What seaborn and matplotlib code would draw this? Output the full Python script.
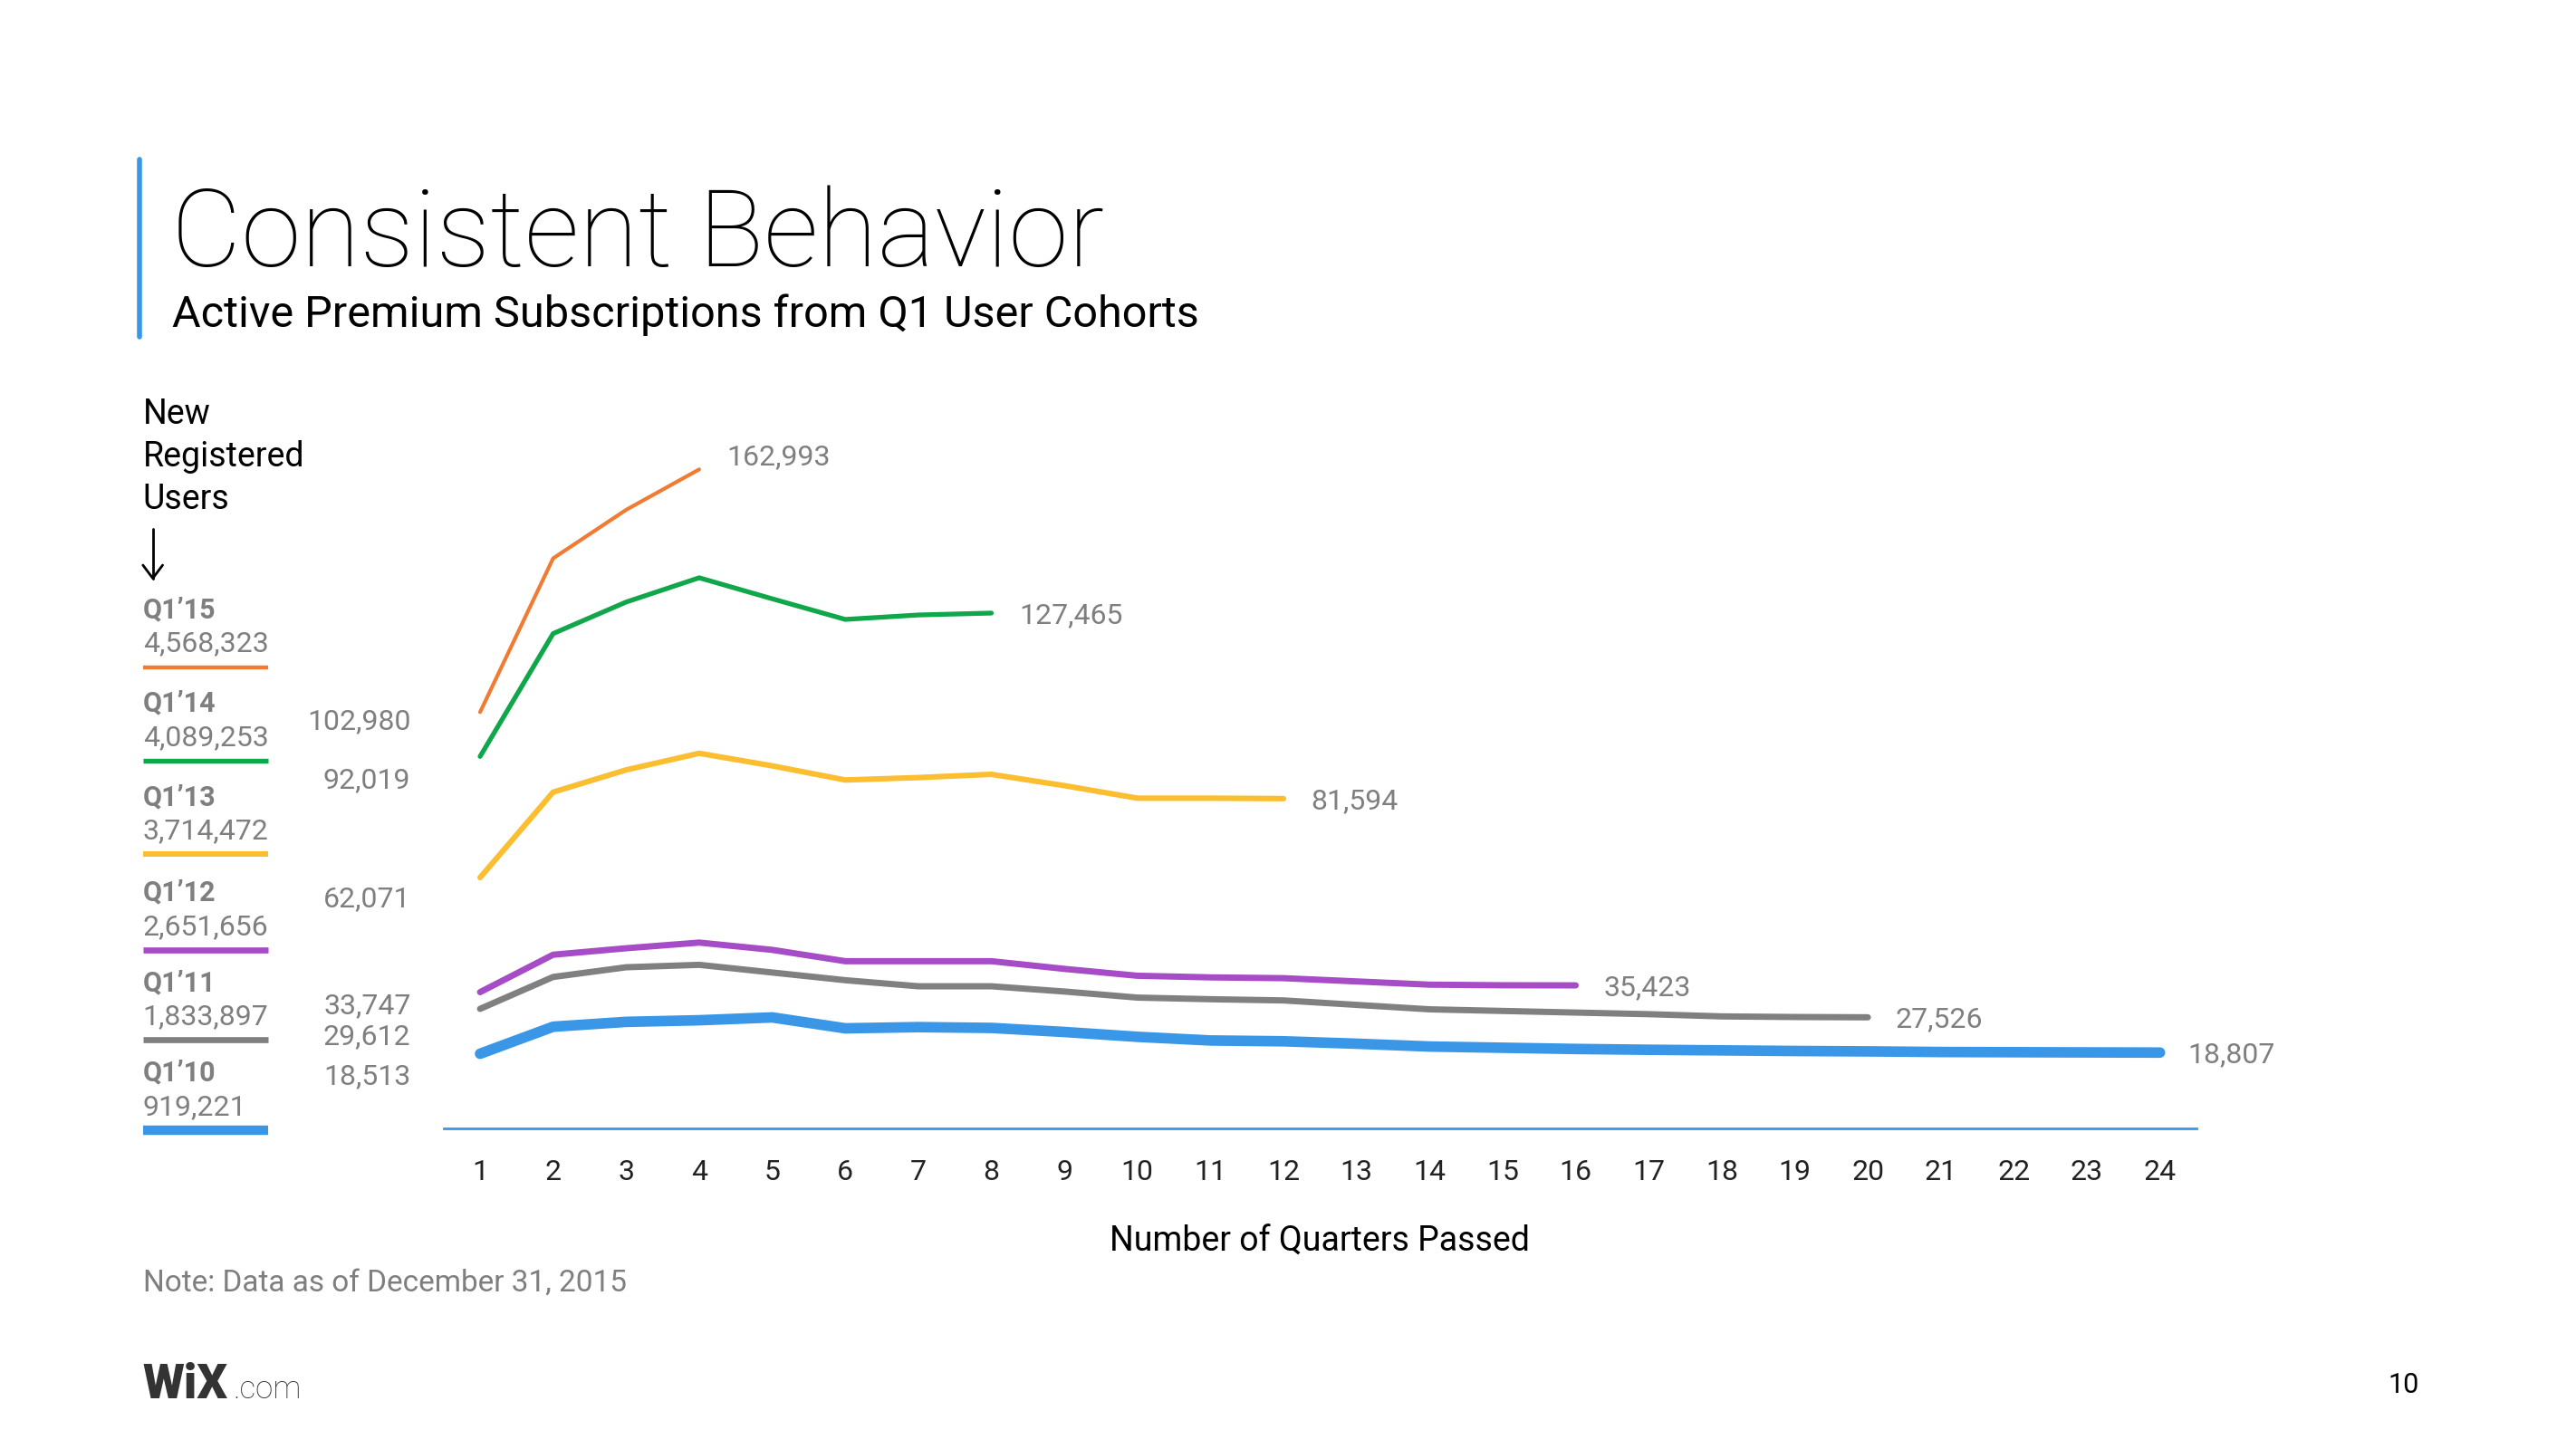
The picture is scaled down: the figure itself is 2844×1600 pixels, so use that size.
'''
Wix cohort chart: active premium subscriptions from Q1 user cohorts
'''
import numpy as np
import pandas as pd
import seaborn as sns
from matplotlib import pyplot as plt
from matplotlib.lines import Line2D

# - data ----------------------------------------------------------------------
cohorts = ['Q1\u201915', 'Q1\u201914', 'Q1\u201913', 'Q1\u201912', 'Q1\u201911', 'Q1\u201910']
new_users = [4568323, 4089253, 3714472, 2651656, 1833897, 919221]

q1_15 = [102980, 141000, 153000, 162993]
q1_14 = [92019, 122400, 130200, 136200, 131000, 125900, 127000, 127465]
q1_13 = [62071, 83200, 88700, 92800, 89700, 86200, 86800, 87600, 84800, 81700,
         81700, 81594]
q1_12 = [33747, 43000, 44600, 46000, 44200, 41400, 41400, 41400, 39500, 37800,
         37400, 37200, 36400, 35600, 35450, 35423]
q1_11 = [29612, 37500, 39900, 40500, 38600, 36700, 35200, 35200, 33900, 32400,
         32000, 31700, 30600, 29500, 29100, 28700, 28300, 27750, 27600, 27526]
q1_10 = [18513, 25200, 26400, 26800, 27500, 24800, 25100, 24900, 23900, 22700,
         21800, 21600, 21000, 20300, 20000, 19700, 19500, 19350, 19200, 19100,
         18950, 18900, 18850, 18807]
series = [q1_15, q1_14, q1_13, q1_12, q1_11, q1_10]

quarter_ticks = list(range(1, 25))

colors = ['#F07C33', '#10A74B', '#FBBE30', '#A54CC6', '#808080', '#3A97E8']
widths = [1.5, 1.9, 2.2, 2.5, 2.5, 4.2]

# - frame ---------------------------------------------------------------------
rows = []
for name, vals in zip(cohorts, series):
    for q, v in enumerate(vals, start=1):
        rows.append({'quarter': q, 'subs': v, 'cohort': name})
df = pd.DataFrame(rows)

# - plot ----------------------------------------------------------------------
sns.set_theme(style='white')
plt.rcParams['font.family'] = ['Roboto', 'DejaVu Sans']

W, H = 1568.0, 882.0          # layout measured on the shrunk reference
fx = lambda x: x / W
fy = lambda y: 1 - y / H

fig = plt.figure(figsize=(14.22, 8), dpi=200)
ax = fig.add_axes([fx(270), fy(687), fx(1337) - fx(270), fy(250) - fy(687)])

palette = dict(zip(cohorts, colors))
sizes = dict(zip(cohorts, widths))
sns.lineplot(data=df, x='quarter', y='subs', hue='cohort', size='cohort',
             palette=palette, sizes=sizes, hue_order=cohorts[::-1],
             legend=False, ax=ax, solid_capstyle='round')

ax.set_xlim(0.5, 24.5)
ax.set_ylim(0, 177500)
ax.set_xticks(quarter_ticks)
ax.set_xticklabels([str(q) for q in quarter_ticks], fontsize=11.5, color='#222222')
ax.set_yticks([])
ax.tick_params(axis='x', length=0, pad=12)
for s in ['top', 'right', 'left']:
    ax.spines[s].set_visible(False)
ax.spines['bottom'].set_color('#3A97E8')
ax.spines['bottom'].set_linewidth(1.0)
ax.set_xlabel('')
ax.set_ylabel('')

# end-of-line labels
for i, vals in enumerate(series):
    dy = 5 if i == 0 else -1
    ax.annotate(f'{vals[-1]:,}', (len(vals), vals[-1]), xytext=(11, dy),
                textcoords='offset points', va='center', ha='left',
                fontsize=11.5, color='#7F7F7F')

# - page furniture ------------------------------------------------------------
fig.add_artist(Line2D([fx(85), fx(85)], [fy(97), fy(205)], color='#3A97E8',
                      lw=2.0, transform=fig.transFigure))
fig.text(fx(104), fy(162), 'Consistent Behavior', fontsize=43, fontweight='light',
         va='baseline', ha='left', color='black')
fig.text(fx(105), fy(199), 'Active Premium Subscriptions from Q1 User Cohorts',
         fontsize=17.5, va='baseline', ha='left', color='black')

for y, t in zip([252, 278, 304], ['New', 'Registered', 'Users']):
    fig.text(fx(87), fy(y), t, fontsize=13.5, va='center', ha='left', color='black')
fig.add_artist(plt.Line2D([fx(93), fx(93)], [fy(322), fy(352)], color='black',
                          lw=1.0, transform=fig.transFigure))
fig.add_artist(plt.Line2D([fx(87), fx(93), fx(99)], [fy(344), fy(352), fy(344)],
                          color='black', lw=1.0, transform=fig.transFigure))

name_y = [371, 428, 485, 543, 598, 653]
for i, (name, users) in enumerate(zip(cohorts, new_users)):
    y0 = name_y[i]
    fig.text(fx(87), fy(y0), name, fontsize=11, fontweight='bold', va='center',
             ha='left', color='#7F7F7F')
    fig.text(fx(87), fy(y0 + 21), f'{users:,}', fontsize=11.5, va='center',
             ha='left', color='#7F7F7F')
    fig.add_artist(Line2D([fx(87), fx(163)], [fy(y0 + 35), fy(y0 + 35)],
                          color=colors[i], lw=widths[i] * 0.8 + 0.4,
                          solid_capstyle='butt', transform=fig.transFigure))

start_y = [439, 475, 547, 612, 631, 655]
for y, vals in zip(start_y, series):
    fig.text(fx(250), fy(y), f'{vals[0]:,}', fontsize=11.5, va='center',
             ha='right', color='#7F7F7F')

fig.text(fx(803), fy(756), 'Number of Quarters Passed', fontsize=13.5,
         va='center', ha='center', color='black')
fig.text(fx(87), fy(781), 'Note: Data as of December 31, 2015', fontsize=12,
         va='center', ha='left', color='#7F7F7F')

fig.text(fx(87), fy(843), 'WiX', fontsize=19, fontweight='heavy', va='center',
         ha='left', color='#333333')
fig.text(fx(142), fy(846), '.com', fontsize=12.5, fontweight='light', va='center',
         ha='left', color='#333333')
fig.text(fx(1463), fy(843), '10', fontsize=11, va='center', ha='center',
         color='black')

plt.savefig('out.png', dpi=200, facecolor='white')
